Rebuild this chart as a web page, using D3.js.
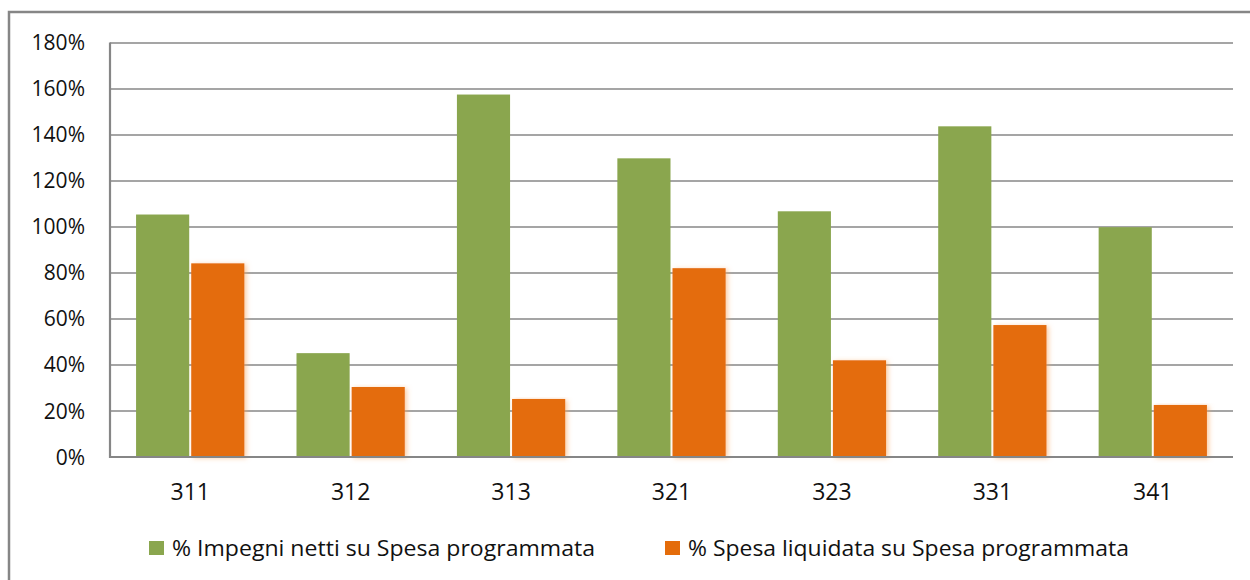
<!DOCTYPE html>
<html>
<head>
<meta charset="utf-8">
<script src="https://cdn.jsdelivr.net/npm/d3@7"></script>
<style>
body { margin: 0; background: #fff; }
svg { display: block; font-family: "Open Sans", "Noto Sans", sans-serif; }
</style>
</head>
<body>
<svg id="chart" width="1250" height="580"></svg>
<script>
var categories = ["311", "312", "313", "321", "323", "331", "341"];
var impegni = [105.3, 45.1, 157.4, 129.7, 106.7, 143.6, 99.8];
var liquidata = [84.1, 30.4, 25.2, 82, 42, 57.3, 22.6];
var seriesNames = ["% Impegni netti su Spesa programmata", "% Spesa liquidata su Spesa programmata"];
var colors = ["#8aa64e", "#e46c0a"];
var yTicks = [0, 20, 40, 60, 80, 100, 120, 140, 160, 180];

var margin = {top: 42.5, left: 110, right: 17, bottom: 123};
var width = 1250 - margin.left - margin.right;
var height = 580 - margin.top - margin.bottom;

var svg = d3.select("#chart");

// outer frame
svg.append("rect")
    .attr("x", 9).attr("y", 12)
    .attr("width", 1300).attr("height", 700)
    .attr("fill", "none")
    .attr("stroke", "#868686")
    .attr("stroke-width", 2.5);

var defs = svg.append("defs");
var glow = defs.append("filter").attr("id", "glow")
    .attr("x", "-10%").attr("y", "-5%").attr("width", "130%").attr("height", "115%");
glow.append("feGaussianBlur").attr("in", "SourceAlpha").attr("stdDeviation", 2.5).attr("result", "b");
glow.append("feOffset").attr("in", "b").attr("dx", 2).attr("dy", 1).attr("result", "o");
glow.append("feFlood").attr("flood-color", "#f8a860").attr("flood-opacity", 0.6);
glow.append("feComposite").attr("in2", "o").attr("operator", "in");
var merge = glow.append("feMerge");
merge.append("feMergeNode");
merge.append("feMergeNode").attr("in", "SourceGraphic");

var g = svg.append("g").attr("transform", "translate(" + margin.left + "," + margin.top + ")");

var x0 = d3.scaleBand().domain(categories).range([0, width]).paddingInner(0.325).paddingOuter(0.1625);
var x1 = d3.scaleBand().domain([0, 1]).range([0, x0.bandwidth()]);
var y = d3.scaleLinear().domain([0, 180]).range([height, 0]);

// gridlines
g.selectAll("line.grid")
    .data(yTicks.slice(1))
    .enter().append("line")
    .attr("class", "grid")
    .attr("x1", 0).attr("x2", width)
    .attr("y1", function(d) { return Math.round(y(d)) + 0.5; })
    .attr("y2", function(d) { return Math.round(y(d)) + 0.5; })
    .attr("stroke", "#878787")
    .attr("stroke-width", 1.3);

var data = categories.map(function(c, i) { return {cat: c, vals: [impegni[i], liquidata[i]]}; });

var groups = g.selectAll("g.grp")
    .data(data)
    .enter().append("g")
    .attr("transform", function(d) { return "translate(" + x0(d.cat) + ",0)"; });

groups.selectAll("rect")
    .data(function(d) { return d.vals.map(function(v, k) { return {k: k, v: v}; }); })
    .enter().append("rect")
    .attr("x", function(d) { return x1(d.k) + (d.k === 1 ? 1 : 0); })
    .attr("width", function(d) { return x1.bandwidth() - 1; })
    .attr("y", function(d) { return y(d.v); })
    .attr("height", function(d) { return height - y(d.v); })
    .attr("fill", function(d) { return colors[d.k]; })
    .attr("filter", function(d) { return d.k === 1 ? "url(#glow)" : null; });

// axes
g.append("line")
    .attr("x1", 0).attr("x2", 0).attr("y1", 0).attr("y2", height + 1)
    .attr("stroke", "#868686").attr("stroke-width", 2.2);
g.append("line")
    .attr("x1", -1).attr("x2", width).attr("y1", height).attr("y2", height)
    .attr("stroke", "#868686").attr("stroke-width", 2.2);

// y labels
g.selectAll("text.ylab")
    .data(yTicks)
    .enter().append("text")
    .attr("x", -25)
    .attr("y", function(d) { return y(d); })
    .attr("dy", "0.36em")
    .attr("text-anchor", "end")
    .attr("font-size", 21)
    .attr("fill", "#111")
    .text(function(d) { return d + "%"; });

// x labels
g.selectAll("text.xlab")
    .data(categories)
    .enter().append("text")
    .attr("x", function(d) { return x0(d) + x0.bandwidth() / 2; })
    .attr("y", height + 35)
    .attr("dy", "0.36em")
    .attr("text-anchor", "middle")
    .attr("font-size", 23)
    .attr("fill", "#111")
    .text(function(d) { return d; });

// legend
var legX = [149, 665];
var leg = svg.selectAll("g.leg")
    .data(seriesNames)
    .enter().append("g")
    .attr("transform", function(d, i) { return "translate(" + legX[i] + ",541)"; });
leg.append("rect")
    .attr("width", 15).attr("height", 14)
    .attr("fill", function(d, i) { return colors[i]; });
leg.append("text")
    .attr("x", 23).attr("y", 7)
    .attr("dy", "0.36em")
    .attr("font-size", 22)
    .attr("fill", "#111")
    .attr("textLength", function(d, i) { return i === 0 ? 423 : 441; })
    .attr("lengthAdjust", "spacingAndGlyphs")
    .text(function(d) { return d; });
</script>
</body>
</html>
